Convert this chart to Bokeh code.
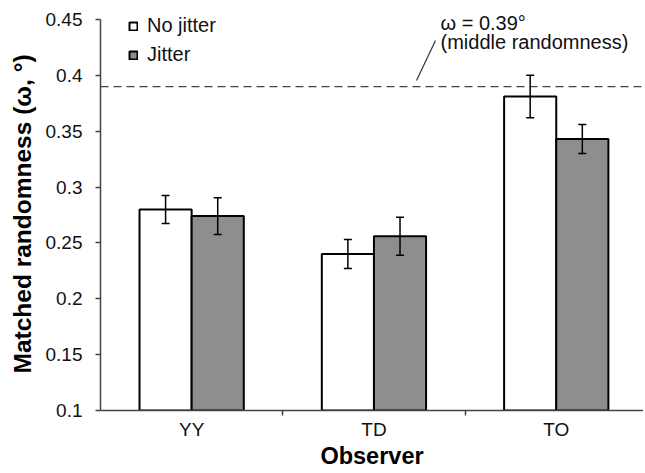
import numpy as np
from bokeh.plotting import figure
from bokeh.models import (Range1d, FixedTicker, Span, Whisker, TeeHead, Title,
                          ColumnDataSource, Legend, LegendItem, Label)
from bokeh.embed import file_html
from bokeh.resources import INLINE

# ---- data ----
observers = ["YY", "TD", "TO"]
no_jitter = [0.280, 0.240, 0.381]
no_jitter_err = [0.0125, 0.013, 0.019]
jitter = [0.274, 0.256, 0.343]
jitter_err = [0.0165, 0.017, 0.013]
reference_omega = 0.39
y_ticks = [0.1, 0.15, 0.2, 0.25, 0.3, 0.35, 0.4, 0.45]
y_tick_labels = ["0.1", "0.15", "0.2", "0.25", "0.3", "0.35", "0.4", "0.45"]

FONT = "Liberation Sans"
AXIS_COLOR = "#444444"
GRAY = "#8e8e8e"

# ---- layout (pixels) ----
W, H = 643, 471
BL, BR, BT, BB = 100, 0, 2, 61
frame_w = W - BL - BR
frame_h = H - BT - BB
cat_px = 182.3
y_lo, y_hi = 0.1, 0.45
top_px = 17                      # gap between frame top and the 0.45 tick
ppu = (frame_h - top_px) / (y_hi - y_lo)
y_top = y_hi + top_px / ppu

centers = np.arange(len(observers)) + 0.5
off = 0.143
bw = 0.286

src_nj = ColumnDataSource(dict(x=centers - off, top=no_jitter,
                               upper=np.array(no_jitter) + np.array(no_jitter_err),
                               lower=np.array(no_jitter) - np.array(no_jitter_err)))
src_j = ColumnDataSource(dict(x=centers + off, top=jitter,
                              upper=np.array(jitter) + np.array(jitter_err),
                              lower=np.array(jitter) - np.array(jitter_err)))

p = figure(width=W, height=H, output_backend="svg", toolbar_location=None,
           x_range=Range1d(0, frame_w / cat_px), y_range=Range1d(y_lo, y_top),
           min_border_left=BL, min_border_right=BR, min_border_top=BT,
           min_border_bottom=BB)
p.outline_line_color = None
p.grid.visible = False
p.background_fill_color = "white"
p.border_fill_color = "white"

r_nj = p.vbar(x="x", top="top", bottom=y_lo, width=bw, source=src_nj,
              fill_color="white", line_color="black", line_width=2)
r_j = p.vbar(x="x", top="top", bottom=y_lo, width=bw, source=src_j,
             fill_color=GRAY, line_color="black", line_width=2)

for src in (src_nj, src_j):
    w = Whisker(base="x", upper="upper", lower="lower", source=src,
                line_color="black", line_width=1.5, level="overlay",
                upper_head=TeeHead(size=8, line_color="black", line_width=1.5),
                lower_head=TeeHead(size=8, line_color="black", line_width=1.5))
    p.add_layout(w)

span = Span(location=reference_omega, dimension="width", line_color="#444444",
            line_width=1.3, line_dash="8 5")
p.add_layout(span)

# annotation (placement in pixels from the 0.45 tick)
def y_at(px_below_top_tick):
    return y_hi - px_below_top_tick / ppu

p.segment(x0=[335 / cat_px], y0=[y_at(21)], x1=[316 / cat_px], y1=[y_at(61)],
          line_color="#333333", line_width=1.2)
for txt, dy in (("ω = 0.39°", 3), ("(middle randomness)", 22)):
    p.add_layout(Label(x=340 / cat_px, y=y_at(dy), text=txt, text_font=FONT,
                       text_font_size="20px", text_color="#111111",
                       text_baseline="alphabetic", text_align="left"))

# x axis
xa = p.xaxis[0]
xa.ticker = FixedTicker(ticks=list(centers), minor_ticks=[1.0, 2.0])
xa.major_label_overrides = {float(c): o for c, o in zip(centers, observers)}
xa.major_tick_out = 0
xa.major_tick_in = 0
xa.minor_tick_out = 5
xa.minor_tick_in = 0
xa.minor_tick_line_color = AXIS_COLOR
xa.minor_tick_line_width = 1.5
xa.axis_line_color = AXIS_COLOR
xa.axis_line_width = 1.5
xa.major_label_text_font = FONT
xa.major_label_text_font_size = "19px"
xa.major_label_text_color = "#111111"
xa.major_label_standoff = 3
xa.axis_label = "Observer"
xa.axis_label_text_font = FONT
xa.axis_label_text_font_size = "23.5px"
xa.axis_label_text_font_style = "bold"
xa.axis_label_text_color = "#000000"
xa.axis_label_standoff = 0

# y axis
ya = p.yaxis[0]
ya.ticker = FixedTicker(ticks=y_ticks)
ya.bounds = (y_lo, y_hi)
ya.major_label_overrides = {t: l for t, l in zip(y_ticks, y_tick_labels)}
ya.major_tick_out = 5
ya.major_tick_in = 0
ya.minor_tick_line_color = None
ya.major_tick_line_color = AXIS_COLOR
ya.major_tick_line_width = 1.5
ya.axis_line_color = AXIS_COLOR
ya.axis_line_width = 1.5
ya.major_label_text_font = FONT
ya.major_label_text_font_size = "19px"
ya.major_label_text_color = "#111111"
ya.major_label_standoff = 13

# y title as a left-side title so it can be placed along the bounded axis
y_title = Title(text="Matched randomness (ω, °)", align="left", offset=37,
                vertical_align="top",
                text_font=FONT, text_font_size="24.5px", text_font_style="bold",
                text_color="#000000", standoff=10)
p.add_layout(y_title, "left")

legend_h = 54
legend = Legend(items=[LegendItem(label="No jitter", renderers=[r_nj]),
                       LegendItem(label="Jitter", renderers=[r_j])],
                location=(28, frame_h - 10 - legend_h), orientation="vertical",
                glyph_width=10, glyph_height=10, label_standoff=9,
                label_text_font=FONT, label_text_font_size="20px",
                label_text_color="#111111", spacing=6, padding=0, margin=0,
                border_line_color=None, background_fill_alpha=0)
p.add_layout(legend)

open("out.html", "w").write(file_html(p, INLINE))
